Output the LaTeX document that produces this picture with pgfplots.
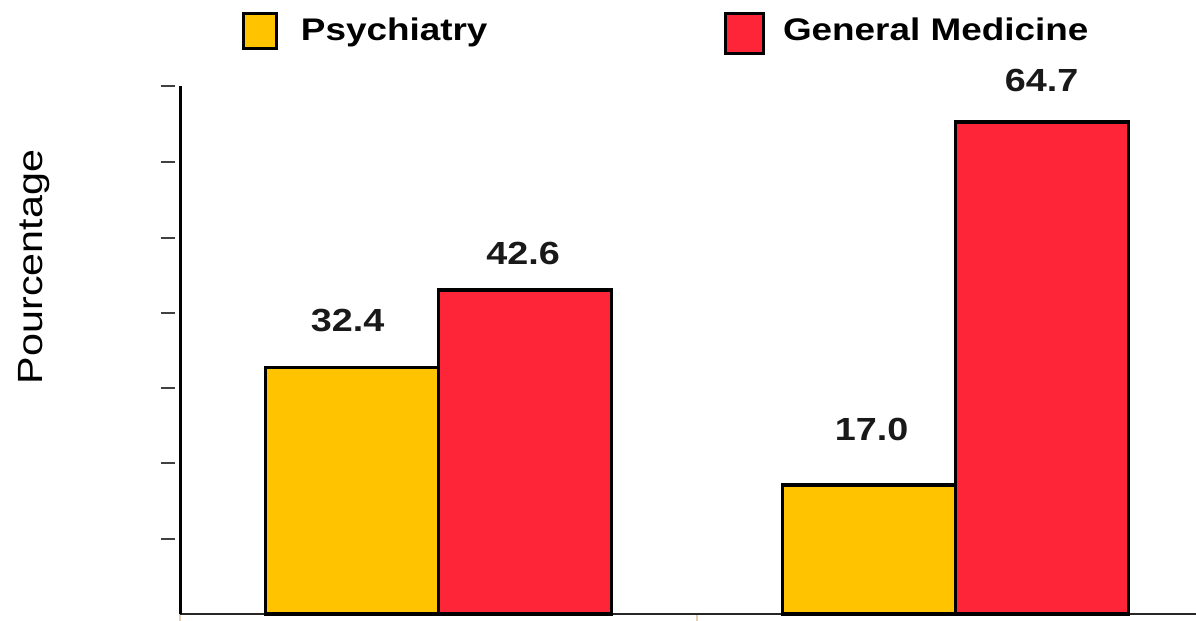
\documentclass[border=0pt]{standalone}
\usepackage{fontspec}
\setmainfont{Liberation Sans}[FakeStretch=1.18]
\usepackage{graphicx}
\usepackage{pgfplots}
\pgfplotsset{compat=1.18}
\usepackage{pgfplotstable}
\definecolor{psy}{HTML}{FFC300}
\definecolor{gen}{HTML}{FF2538}
\pgfplotstableread{
x y gap dx lab
0.5 32.4 14.3 -1.8 32.4
1.5 17.0 17.9 1.0 17.0
}\psytab
\pgfplotstableread{
x y gap dx lab
0.5 42.6 10.1 -0.8 42.6
1.5 64.7 12.1 -0.2 64.7
}\gentab
\begin{document}
\begin{tikzpicture}
\useasboundingbox (0,0) rectangle (478.4pt,248.4pt);
\begin{axis}[
  at={(72pt,2.8pt)}, anchor=south west,
  scale only axis, width=406.4pt, height=211.2pt,
  xmin=0, xmax=1.965, ymin=0, ymax=69.47,
  axis x line*=bottom, axis y line*=left,
  x axis line style={draw=black!85, line width=1pt},
  y axis line style={draw=black, line width=1.2pt},
  tick align=outside,
  major tick length=5.4pt,
  xtick={0,1}, xticklabels={},
  xtick style={draw=brown!40, line width=0.6pt},
  ytick={9.87,19.87,29.74,39.6,49.47,59.47,69.47}, yticklabels={},
  ytick style={draw=black!75, line width=0.8pt, xshift=-2.2pt},
  ybar, bar width=69.2pt,
  clip=false,
  ylabel={\fontsize{14pt}{16pt}\selectfont Pourcentage},
  ylabel style={at={(rel axis cs:-0.1437,0.657)}, anchor=center, rotate=0},
  legend columns=2,
  legend style={at={(rel axis cs:0.061,1.140)}, anchor=north west, draw=none, fill=none,
    inner sep=0pt, outer sep=0pt, nodes={inner sep=0pt, outer sep=0pt},
    font=\fontsize{12.5pt}{14pt}\selectfont\bfseries,
    /tikz/column 1/.style={column sep=9.2pt},
    /tikz/column 2/.style={column sep=94.6pt},
    /tikz/column 3/.style={column sep=7.2pt}},
  point meta=explicit symbolic,
  nodes near coords={\pgfplotspointmeta},
  visualization depends on={\thisrow{gap} \as \gap},
  visualization depends on={\thisrow{dx} \as \dx},
  nodes near coords style={anchor=base, inner sep=0pt, yshift=\gap*1pt, xshift=\dx*1pt,
    font=\fontsize{12.8pt}{15pt}\selectfont\bfseries, text=black!90},
]
\addplot[fill=psy, draw=black, line width=1.4pt, bar shift=-34.6pt,
  legend image code/.code={\draw[fill=psy, draw=black, line width=1.2pt] (0pt,-7pt) rectangle (13.2pt,7pt);}]
  table[x=x, y=y, meta=lab] {\psytab};
\addlegendentry{Psychiatry}
\addplot[fill=gen, draw=black, line width=1.4pt, bar shift=34.6pt,
  legend image code/.code={\draw[fill=gen, draw=black, line width=1.2pt] (0pt,-9pt) rectangle (15.2pt,7pt);}]
  table[x=x, y=y, meta=lab] {\gentab};
\addlegendentry{General Medicine}
\end{axis}
\end{tikzpicture}
\end{document}
